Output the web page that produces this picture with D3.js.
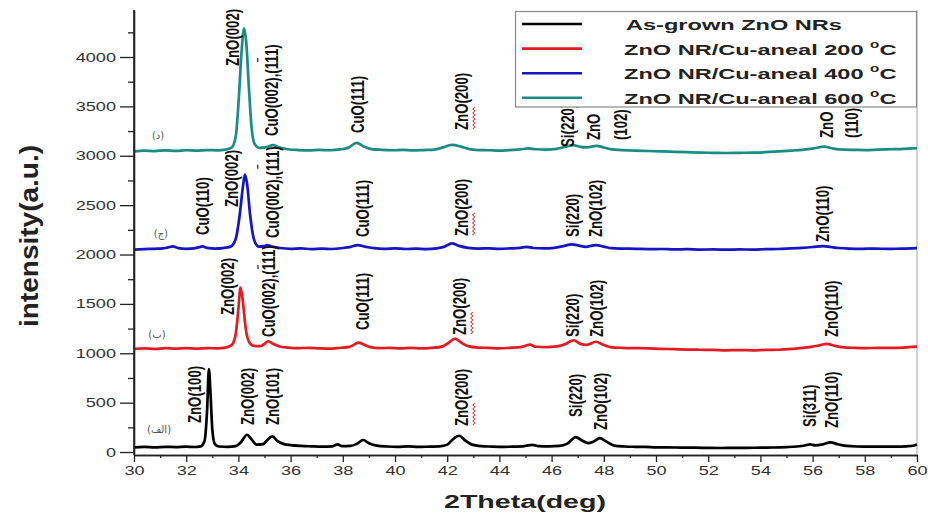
<!DOCTYPE html>
<html><head><meta charset="utf-8">
<script src="https://cdn.jsdelivr.net/npm/d3@7"></script>
<style>body{margin:0;background:#fff} svg{display:block}</style>
</head><body><svg id="c" width="928" height="515"></svg>
<script>
// ---- data (2θ in degrees, intensity in a.u.) ----
const asGrown = [[30.0,48],[30.4,52],[30.8,47],[31.2,53],[31.6,50],[32.0,54],[32.3,51],[32.55,58],[32.7,110],[32.8,420],[32.87,840],[32.93,600],[33.0,230],[33.1,80],[33.25,56],[33.6,52],[33.9,60],[34.1,100],[34.33,175],[34.5,130],[34.7,75],[34.95,80],[35.1,120],[35.3,158],[35.5,110],[35.75,80],[36.0,70],[36.4,62],[36.8,58],[37.2,55],[37.6,58],[37.8,78],[37.95,60],[38.3,62],[38.55,85],[38.78,122],[39.0,90],[39.3,65],[39.7,56],[40.1,53],[40.5,58],[40.9,52],[41.3,55],[41.7,58],[42.0,75],[42.2,125],[42.45,165],[42.7,115],[42.95,75],[43.3,60],[43.7,55],[44.1,52],[44.5,55],[44.9,58],[45.1,68],[45.27,72],[45.5,60],[45.9,58],[46.3,62],[46.6,85],[46.93,152],[47.15,120],[47.4,90],[47.6,105],[47.85,140],[48.1,105],[48.4,65],[48.8,56],[49.2,53],[49.6,52],[50.0,48],[50.5,47],[51.0,45],[51.5,44],[52.0,42],[52.5,41],[53.0,43],[53.5,42],[54.0,45],[54.5,46],[55.0,50],[55.4,56],[55.7,66],[55.9,78],[56.1,68],[56.35,75],[56.69,98],[56.95,80],[57.3,62],[57.7,56],[58.2,54],[58.7,55],[59.2,54],[59.6,58],[59.85,64],[60.0,76]];
const anneal200 = [[30.0,1045],[30.4,1050],[30.8,1044],[31.2,1052],[31.6,1048],[32.0,1053],[32.4,1047],[32.8,1052],[33.2,1050],[33.5,1058],[33.75,1085],[33.9,1200],[34.0,1450],[34.08,1665],[34.16,1550],[34.28,1250],[34.42,1110],[34.6,1075],[34.85,1072],[35.0,1095],[35.13,1122],[35.3,1100],[35.55,1072],[35.9,1058],[36.3,1052],[36.7,1055],[37.1,1050],[37.5,1047],[37.9,1056],[38.25,1065],[38.45,1090],[38.6,1108],[38.8,1090],[39.05,1062],[39.4,1052],[39.8,1055],[40.2,1050],[40.6,1054],[41.0,1049],[41.4,1055],[41.8,1068],[42.05,1105],[42.3,1148],[42.55,1105],[42.8,1072],[43.2,1058],[43.6,1055],[44.0,1050],[44.4,1055],[44.8,1062],[45.0,1075],[45.17,1088],[45.4,1066],[45.8,1062],[46.2,1070],[46.5,1090],[46.85,1132],[47.1,1095],[47.35,1085],[47.7,1117],[47.95,1090],[48.25,1063],[48.7,1055],[49.2,1052],[49.7,1050],[50.2,1045],[50.7,1042],[51.2,1038],[51.7,1036],[52.2,1034],[52.7,1030],[53.2,1032],[53.7,1030],[54.2,1034],[54.7,1036],[55.2,1044],[55.6,1055],[56.0,1068],[56.25,1080],[56.55,1095],[56.85,1075],[57.2,1060],[57.6,1055],[58.0,1052],[58.5,1055],[59.0,1054],[59.5,1058],[59.8,1064],[60.0,1068]];
const anneal400 = [[30.0,2050],[30.4,2055],[30.8,2058],[31.1,2062],[31.3,2072],[31.48,2082],[31.7,2065],[32.0,2058],[32.3,2062],[32.5,2075],[32.63,2082],[32.8,2068],[33.1,2060],[33.4,2065],[33.7,2080],[33.9,2160],[34.05,2400],[34.18,2700],[34.25,2810],[34.33,2720],[34.45,2400],[34.6,2150],[34.78,2080],[35.0,2085],[35.1,2095],[35.3,2080],[35.6,2066],[36.0,2058],[36.4,2062],[36.8,2055],[37.2,2060],[37.6,2056],[38.0,2066],[38.3,2078],[38.57,2095],[38.85,2080],[39.2,2064],[39.6,2058],[40.0,2062],[40.4,2056],[40.8,2060],[41.2,2055],[41.6,2062],[41.9,2080],[42.18,2112],[42.45,2088],[42.8,2068],[43.2,2060],[43.6,2063],[44.0,2058],[44.4,2062],[44.8,2068],[45.04,2078],[45.3,2066],[45.7,2062],[46.1,2068],[46.45,2085],[46.77,2102],[47.05,2090],[47.3,2078],[47.7,2096],[48.0,2080],[48.3,2064],[48.7,2060],[49.2,2058],[49.7,2055],[50.2,2056],[50.7,2052],[51.2,2054],[51.7,2050],[52.2,2052],[52.7,2049],[53.2,2052],[53.7,2050],[54.2,2054],[54.7,2056],[55.2,2062],[55.6,2068],[56.0,2076],[56.4,2086],[56.7,2076],[57.0,2066],[57.4,2060],[57.9,2058],[58.4,2060],[58.9,2057],[59.4,2060],[59.8,2062],[60.0,2064]];
const anneal600 = [[30.0,3045],[30.4,3052],[30.8,3048],[31.2,3055],[31.6,3050],[32.0,3056],[32.4,3052],[32.8,3058],[33.2,3055],[33.5,3062],[33.75,3085],[33.9,3200],[34.02,3600],[34.12,4050],[34.22,4290],[34.3,4150],[34.4,3700],[34.5,3300],[34.62,3120],[34.8,3080],[35.05,3085],[35.33,3108],[35.55,3085],[35.9,3066],[36.3,3058],[36.7,3055],[37.1,3060],[37.5,3056],[37.9,3064],[38.2,3080],[38.53,3130],[38.8,3095],[39.1,3068],[39.5,3060],[39.9,3056],[40.3,3060],[40.7,3054],[41.1,3058],[41.5,3062],[41.85,3085],[42.17,3110],[42.5,3095],[42.8,3070],[43.2,3058],[43.6,3056],[44.0,3052],[44.4,3058],[44.8,3064],[45.1,3074],[45.4,3066],[45.8,3062],[46.2,3070],[46.55,3092],[46.82,3108],[47.1,3090],[47.35,3085],[47.72,3100],[48.0,3084],[48.3,3064],[48.7,3058],[49.2,3052],[49.7,3048],[50.2,3044],[50.7,3040],[51.2,3036],[51.7,3032],[52.2,3030],[52.7,3028],[53.2,3030],[53.7,3032],[54.2,3036],[54.7,3044],[55.2,3052],[55.6,3060],[56.0,3072],[56.44,3092],[56.8,3072],[57.2,3062],[57.6,3060],[58.0,3058],[58.5,3062],[59.0,3066],[59.5,3070],[59.8,3074],[60.0,3076]];

const seriesNames = ["As-grown ZnO NRs","ZnO NR/Cu-aneal 200","ZnO NR/Cu-aneal 400","ZnO NR/Cu-aneal 600"];
const seriesDegree = [false,true,true,true];
const xTicks = [30,32,34,36,38,40,42,44,46,48,50,52,54,56,58,60];
const xMinorTicks = [31,33,35,37,39,41,43,45,47,49,51,53,55,57,59];
const yTicks = [0,500,1000,1500,2000,2500,3000,3500,4000];
const yMinorTicks = [250,750,1250,1750,2250,2750,3250,3750,4250];

// peak annotations: [text, 2θ, intensity at the start of the text]
const peakLabels = [
  ["ZnO(100)",32.34,294],["ZnO(002)",34.37,273],["ZnO(101)",35.31,273],["ZnO(200)",42.57,263],
  ["Si(220)",46.93,354],["ZnO(102)",47.88,223],["Si(311)",55.9,253],["ZnO(110)",56.73,243],
  ["ZnO(002)",33.6,1387],["CuO(002),(111)",35.17,1165],["CuO(111)",38.77,1235],["ZnO(200)",42.49,1185],
  ["Si(220)",46.82,1165],["ZnO(102)",47.74,1165],["ZnO(110)",56.74,1165],
  ["CuO(110)",32.63,2197],["ZnO(002)",33.74,2481],["CuO(002),(111)",35.31,2167],["CuO(111)",38.77,2177],
  ["ZnO(200)",42.56,2187],["Si(220)",46.82,2177],["ZnO(102)",47.7,2177],["ZnO(110)",56.4,2127],
  ["ZnO(002)",33.79,3909],["CuO(002),(111)",35.29,3200],["CuO(111)",38.58,3230],["ZnO(200)",42.57,3261],
  ["Si(220)",46.63,3089],["ZnO",47.62,3159],["(102)",48.65,3159],["ZnO",56.54,3180],["(110)",57.49,3180]
];
const overbars = [[34.75,1873],[34.74,2889],[34.74,3970]];
const sampleTags = [["(الف)",30.96,233],["(ب)",30.88,1195],["(ج)",31.03,2208],["(د)",30.92,3210]];

// ---- styles ----
const colors = ["#000000","#e31b23","#1515c4","#1b8c83"];
const SX = 1.45; // horizontal stretch of the original picture's lettering

const svg = d3.select("#c");
const x = d3.scaleLinear().domain([30,60]).range([134,917]);
const y = d3.scaleLinear().domain([-30,4476]).range([455,10]);

// right frame
svg.append("line").attr("x1",917).attr("x2",917).attr("y1",10).attr("y2",455)
  .attr("stroke","#b5b5b5").attr("stroke-width",1.2);

// series
const line = d3.line().x(d=>x(d[0])).y(d=>y(d[1])).curve(d3.curveMonotoneX);
[asGrown,anneal200,anneal400,anneal600].forEach((s,i)=>{
  svg.append("path").datum(s).attr("d",line).attr("fill","none")
    .attr("stroke",colors[i]).attr("stroke-width",2.7).attr("stroke-linejoin","round");
});

// axes
function styleAxis(g){
  g.select(".domain").attr("stroke","#222").attr("stroke-width",1.6);
  g.selectAll(".tick line").attr("stroke","#222").attr("stroke-width",1.3);
}
const gxMinor = svg.append("g").attr("transform","translate(0,455)")
  .call(d3.axisBottom(x).tickValues(xMinorTicks).tickSize(3).tickSizeOuter(0).tickFormat(""));
styleAxis(gxMinor);
const gx = svg.append("g").attr("transform","translate(0,455)")
  .call(d3.axisBottom(x).tickValues(xTicks).tickSize(7).tickSizeOuter(0).tickFormat(d3.format("d")));
styleAxis(gx);
gx.selectAll(".tick text").attr("y",0).attr("dy",0)
  .attr("transform",`translate(0,20) scale(${SX},1)`)
  .attr("font-family","Liberation Sans, Arial, sans-serif").attr("font-size",12.5).attr("fill","#333");

const gyMinor = svg.append("g").attr("transform","translate(134,0)")
  .call(d3.axisLeft(y).tickValues(yMinorTicks).tickSize(6).tickSizeOuter(0).tickFormat(""));
styleAxis(gyMinor);
const gy = svg.append("g").attr("transform","translate(134,0)")
  .call(d3.axisLeft(y).tickValues(yTicks).tickSize(14).tickSizeOuter(0).tickFormat(d3.format("d")));
styleAxis(gy);
gy.select(".domain").attr("d",`M0,${y.range()[0]}V${y.range()[1]}`);
gy.selectAll(".tick text").attr("x",0)
  .attr("transform",`translate(-18,0) scale(${SX},1)`)
  .attr("font-family","Liberation Sans, Arial, sans-serif").attr("font-size",12.5).attr("fill","#333");

// axis titles
svg.append("text").attr("x",525).attr("y",508).attr("text-anchor","middle")
  .attr("font-family","Liberation Sans, Arial, sans-serif").attr("font-weight","bold")
  .attr("font-size",18).attr("fill","#222")
  .attr("textLength",162).attr("lengthAdjust","spacingAndGlyphs").text("2Theta(deg)");
svg.append("text").attr("transform",`translate(29,236) scale(1.3,1) rotate(-90)`)
  .attr("text-anchor","middle").attr("dy","0.35em")
  .attr("font-family","Liberation Sans, Arial, sans-serif").attr("font-weight","bold")
  .attr("font-size",20).attr("fill","#222")
  .attr("textLength",182).attr("lengthAdjust","spacingAndGlyphs").text("intensity(a.u.)");

// peak labels
const lab = svg.append("g");
peakLabels.forEach(([t,th,v])=>{
  const g = lab.append("g").attr("transform",`translate(${x(th)},${y(v)}) scale(1.35,1) rotate(-90)`);
  g.append("text").attr("dy","0.35em")
    .attr("font-family","Liberation Sans, Arial, sans-serif").attr("font-weight","bold")
    .attr("font-size",13.2).attr("fill","#111").text(t);
  if (t==="ZnO(200)") {
    let p = "M1,8";
    for (let k=1;k<=11;k++) p += `L${1+k*2},${k%2?9.6:8}`;
    g.append("path").attr("d",p).attr("fill","none").attr("stroke","#d33").attr("stroke-width",0.8);
  }
});
overbars.forEach(([th,v])=>{
  lab.append("line").attr("x1",x(th)).attr("x2",x(th)).attr("y1",y(v)-2).attr("y2",y(v)+2)
    .attr("stroke","#444").attr("stroke-width",1.4);
});
sampleTags.forEach(([t,th,v])=>{
  lab.append("text").attr("x",x(th)).attr("y",y(v)).attr("dy","0.35em").attr("text-anchor","middle")
    .attr("font-family","DejaVu Sans, sans-serif").attr("font-size",10).attr("fill","#555").text(t);
});

// legend
const lg = svg.append("g");
lg.append("rect").attr("x",515.5).attr("y",11.5).attr("width",401).attr("height",95.5)
  .attr("fill","#fff").attr("stroke","#8a8a8a").attr("stroke-width",1.2);
seriesNames.forEach((n,i)=>{
  const ry = 24 + i*24.6;
  lg.append("line").attr("x1",522).attr("x2",582).attr("y1",ry).attr("y2",ry)
    .attr("stroke",colors[i]).attr("stroke-width",2.6);
  const t = lg.append("text").attr("transform",`translate(${i===0?626:624},${ry+6}) scale(1.52,1)`)
    .attr("font-family","Liberation Sans, Arial, sans-serif").attr("font-weight","bold")
    .attr("font-size",15.5).attr("fill","#222");
  if (seriesDegree[i]) {
    t.append("tspan").text(n+" ");
    t.append("tspan").attr("font-size",10).attr("dy",-7).text("o");
    t.append("tspan").attr("dy",7).text("C");
  } else t.text(n);
});
</script></body></html>
